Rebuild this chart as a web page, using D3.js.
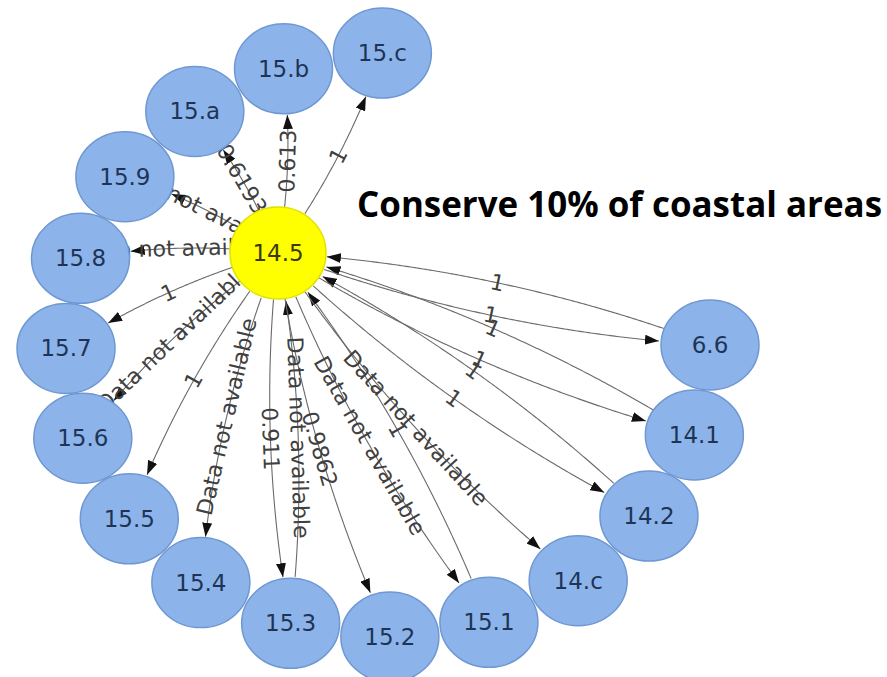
<!DOCTYPE html>
<html><head><meta charset="utf-8">
<script src="https://cdn.jsdelivr.net/npm/d3@7"></script>
<style>body{margin:0;background:#fff}</style>
</head><body>
<svg id="chart" width="887" height="677"></svg>
<script>
// ---------- data ----------
const hubName = "14.5";
const ringNodes = ["15.c","15.b","15.a","15.9","15.8","15.7","15.6","15.5","15.4","15.3","15.2","15.1","14.c","14.2","14.1","6.6"];
const edgeSources = ["14.5","14.5","14.5","14.5","14.5","14.5","14.5","14.5","14.5","15.3","14.5","14.5","15.1","14.5","14.5","14.5","14.2","14.5","14.1","14.5","6.6"];
const edgeTargets = ["15.c","15.b","15.a","15.9","15.8","15.7","15.6","15.5","15.4","14.5","15.3","15.2","14.5","15.1","14.c","14.2","14.5","14.1","14.5","6.6","14.5"];
const edgeLabels  = ["1","0.613","0.6193","Data not available","Data not available","1","Data not available","1","Data not available","Data not available","0.911","0.9862","1","Data not available","Data not available","1","1","1","1","1","1"];
const titleText = "Conserve 10% of coastal areas";

// ---------- layout ----------
const W = 887, H = 677;
const svg = d3.select("#chart");
svg.append("rect").attr("width", W).attr("height", H).attr("fill", "#fff");

const ring = {cx: 388, cy: 345, rx: 322, ry: 292};
const angle = d3.scaleLinear().domain([0, ringNodes.length - 1]).range([269, 0]);
const pos = new Map();
pos.set(hubName, {x: 278, y: 253, rx: 48, ry: 46, hub: true});
ringNodes.forEach((n, i) => {
  const a = angle(i) * Math.PI / 180;
  pos.set(n, {x: ring.cx + ring.rx * Math.cos(a), y: ring.cy + ring.ry * Math.sin(a), rx: 49, ry: 45});
});

const defs = svg.append("defs");
defs.append("marker").attr("id", "arr").attr("viewBox", "0 -5 14 10")
  .attr("refX", 14).attr("refY", 0).attr("markerWidth", 14).attr("markerHeight", 10)
  .attr("markerUnits", "userSpaceOnUse").attr("orient", "auto")
  .append("path").attr("d", "M0,-5L14,0L0,5Z").attr("fill", "#111");

function inside(p, n, pad) {
  const dx = (p[0] - n.x) / (n.rx + pad), dy = (p[1] - n.y) / (n.ry + pad);
  return dx * dx + dy * dy < 1;
}

const edges = edgeSources.map((s, i) => {
  const a = pos.get(s), b = pos.get(edgeTargets[i]);
  const dx = b.x - a.x, dy = b.y - a.y;
  const curv = 0.075;
  const c = [(a.x + b.x) / 2 - dy * curv, (a.y + b.y) / 2 + dx * curv];
  const pts = [];
  for (let k = 0; k <= 200; k++) {
    const t = k / 200, u = 1 - t;
    const p = [u * u * a.x + 2 * u * t * c[0] + t * t * b.x, u * u * a.y + 2 * u * t * c[1] + t * t * b.y];
    if (!inside(p, a, 0) && !inside(p, b, 1)) pts.push(p);
  }
  return {pts, label: edgeLabels[i]};
});

const line = d3.line();
svg.append("g").selectAll("path").data(edges).join("path")
  .attr("d", d => line(d.pts))
  .attr("fill", "none").attr("stroke", "#6a6a6a").attr("stroke-width", 1.1)
  .attr("marker-end", "url(#arr)");

svg.append("g").selectAll("text").data(edges).join("text")
  .attr("transform", d => {
    const m = Math.floor(d.pts.length / 2);
    const p0 = d.pts[Math.max(0, m - 3)], p1 = d.pts[Math.min(d.pts.length - 1, m + 3)], p = d.pts[m];
    let ang = Math.atan2(p1[1] - p0[1], p1[0] - p0[0]) * 180 / Math.PI;
    if (ang > 90) ang -= 180; else if (ang < -90) ang += 180;
    return `translate(${p[0]},${p[1]}) rotate(${ang})`;
  })
  .attr("text-anchor", "middle").attr("dominant-baseline", "central")
  .attr("font-family", "DejaVu Sans, Verdana, sans-serif").attr("font-size", 22)
  .attr("fill", "#404040")
  .text(d => d.label);

const nodes = [hubName, ...ringNodes].map(n => ({name: n, ...pos.get(n)}));
const gNodes = svg.append("g").selectAll("g").data(nodes).join("g")
  .attr("transform", d => `translate(${d.x},${d.y})`);
gNodes.append("ellipse")
  .attr("rx", d => d.rx).attr("ry", d => d.ry)
  .attr("fill", d => d.hub ? "#ffff00" : "#8db4ea")
  .attr("stroke", d => d.hub ? "#e2e200" : "#6f97d2").attr("stroke-width", 1.5);
gNodes.append("text")
  .attr("text-anchor", "middle").attr("dominant-baseline", "central")
  .attr("font-family", "DejaVu Sans, Verdana, sans-serif").attr("font-size", 23)
  .attr("fill", d => d.hub ? "#3a3a05" : "#1e3456")
  .text(d => d.name);

svg.append("text")
  .attr("x", 357).attr("y", 217)
  .attr("font-family", "Open Sans, Noto Sans, sans-serif").attr("font-weight", "bold")
  .attr("font-size", 35).attr("fill", "#000")
  .attr("textLength", 525).attr("lengthAdjust", "spacingAndGlyphs")
  .text(titleText);
</script>
</body></html>
